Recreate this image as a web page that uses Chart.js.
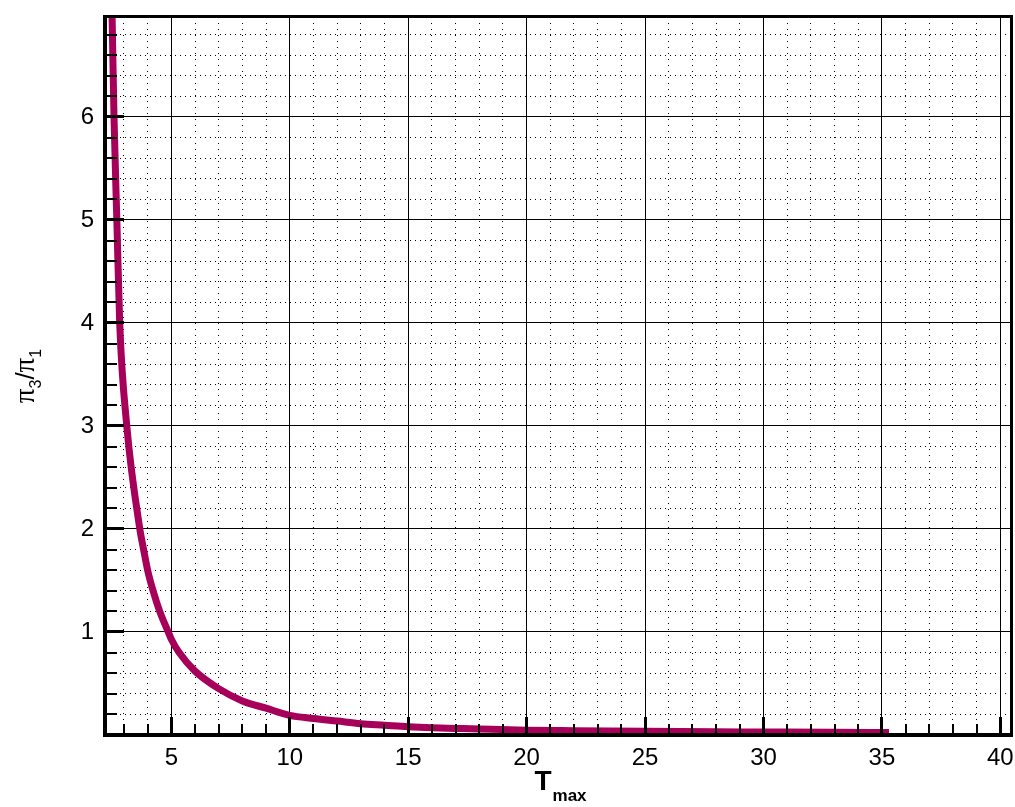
<!DOCTYPE html>
<html>
<head>
<meta charset="utf-8">
<title>pi3/pi1 vs Tmax</title>
<script src="https://cdn.jsdelivr.net/npm/chart.js@4/dist/chart.umd.min.js"></script>
<style>
  html, body { margin: 0; padding: 0; background: #fff; }
  #wrap { width: 1015px; height: 807px; }
</style>
</head>
<body>
<div id="wrap"><canvas id="ratioChart" width="1015" height="807"></canvas></div>
<script>
// curve samples: T_max and the ratio pi3/pi1
const tMax = [2.50, 2.58, 2.70, 2.82, 3.12, 3.67, 3.83, 4.00, 4.23, 4.51, 4.87, 5.00, 5.33,
  6, 7, 8, 9, 10, 11, 12, 13, 14, 15, 16, 17, 18, 20, 22, 25, 28, 30, 33, 35.3];
const piRatio = [6.97, 6.0, 5.0, 4.0, 3.0, 2.0, 1.8, 1.6, 1.4, 1.2, 1.0, 0.93, 0.80,
  0.62, 0.45, 0.33, 0.26, 0.19, 0.16, 0.135, 0.11, 0.095, 0.08, 0.07, 0.064, 0.058, 0.047, 0.042, 0.036, 0.031, 0.029, 0.026, 0.025];

// labelled ticks
const xLabels = [5, 10, 15, 20, 25, 30, 35, 40];
const yLabels = [1, 2, 3, 4, 5, 6];

const X_MIN = 2.2, X_MAX = 40.45;
const Y_MIN = 0, Y_MAX = 6.97;

const tickFont = { family: "'Liberation Sans', Arial, sans-serif", size: 24 };

// keep the plot box fixed: no extra room for overhanging labels
const fixWidth = w => s => { s.width = w; s.paddingTop = 0; s.paddingBottom = 0; s.paddingLeft = 0; s.paddingRight = 0; };
const fixHeight = h => s => { s.height = h; s.paddingTop = 0; s.paddingBottom = 0; s.paddingLeft = 0; s.paddingRight = 0; };

// frame and inward tick marks, drawn on top of the curve
const frameTicks = {
  id: 'frameTicks',
  afterDatasetsDraw(chart) {
    const { ctx, chartArea: a, scales } = chart;
    ctx.save();
    ctx.fillStyle = '#000';
    scales.xMinor.ticks.forEach(t => {
      const px = scales.x.getPixelForValue(t.value);
      const major = xLabels.includes(t.value);
      const w = major ? 3 : 2, h = major ? 18 : 11;
      ctx.fillRect(Math.round(px - w / 2), a.bottom - h, w, h);
    });
    scales.yMinor.ticks.forEach(t => {
      const py = scales.y.getPixelForValue(t.value);
      const major = Math.abs(t.value - Math.round(t.value)) < 1e-6;
      const w = major ? 19 : 12, h = major ? 3 : 2;
      ctx.fillRect(a.left, Math.round(py - h / 2), w, h);
    });
    // box
    ctx.fillRect(a.left - 2, a.top - 2, 4, a.bottom - a.top + 4);
    ctx.fillRect(a.left - 2, a.bottom - 2, a.right - a.left + 4, 4);
    ctx.fillRect(a.left - 2, a.top - 2, a.right - a.left + 3, 3);
    ctx.fillRect(a.right - 1, a.top - 2, 3, a.bottom - a.top + 4);
    ctx.restore();
  }
};

// axis titles with subscripts
const axisTitles = {
  id: 'axisTitles',
  afterDraw(chart) {
    const { ctx, chartArea: a } = chart;
    ctx.save();
    ctx.fillStyle = '#000';
    ctx.textBaseline = 'alphabetic';

    // T_max
    const bigT = "bold 28px 'Liberation Sans', Arial, sans-serif";
    const sub = "bold 17px 'Liberation Sans', Arial, sans-serif";
    ctx.font = bigT;
    const wT = ctx.measureText('T').width;
    ctx.font = sub;
    const wSub = ctx.measureText('max').width;
    let x = (a.left + a.right) / 2 - (wT + wSub) / 2 + 2;
    ctx.font = bigT;
    ctx.fillText('T', x, 790);
    ctx.font = sub;
    ctx.fillText('max', x + wT + 1, 801);

    // pi3 / pi1, rotated
    const parts = [
      { s: '\u03c0', f: "29px 'Liberation Serif', serif", dy: 0 },
      { s: '3', f: "16px 'Liberation Sans', Arial, sans-serif", dy: 7 },
      { s: '/', f: "26px 'Liberation Sans', Arial, sans-serif", dy: 0 },
      { s: '\u03c0', f: "29px 'Liberation Serif', serif", dy: 0 },
      { s: '1', f: "16px 'Liberation Sans', Arial, sans-serif", dy: 7 }
    ];
    let total = 0;
    parts.forEach(p => { ctx.font = p.f; p.w = ctx.measureText(p.s).width; total += p.w; });
    ctx.translate(34, (a.top + a.bottom) / 2);
    ctx.rotate(-Math.PI / 2);
    let px = -total / 2;
    parts.forEach(p => {
      ctx.font = p.f;
      ctx.fillText(p.s, px, p.dy);
      px += p.w;
    });
    ctx.restore();
  }
};

const points = tMax.map((t, i) => ({ x: t, y: piRatio[i] }));

new Chart(document.getElementById('ratioChart').getContext('2d'), {
  type: 'scatter',
  data: {
    datasets: [{
      data: points,
      showLine: true,
      borderColor: '#a6005a',
      borderWidth: 7,
      pointRadius: 0,
      cubicInterpolationMode: 'monotone',
      clip: 0
    }]
  },
  options: {
    responsive: false,
    animation: false,
    devicePixelRatio: 1,
    layout: { padding: { top: 17, right: 4, left: 0, bottom: 0 } },
    plugins: { legend: { display: false }, tooltip: { enabled: false } },
    scales: {
      x: {
        type: 'linear', position: 'bottom', min: X_MIN, max: X_MAX,
        afterFit: fixHeight(72),
        ticks: {
          stepSize: 5, includeBounds: false, autoSkip: false, maxRotation: 0,
          padding: 9, color: '#000', font: tickFont,
          callback: v => xLabels.includes(v) ? String(v) : ''
        },
        grid: { color: '#000', lineWidth: 1, drawTicks: false },
        border: { display: false }
      },
      xMinor: {
        type: 'linear', position: 'top', min: X_MIN, max: X_MAX,
        afterFit: fixHeight(0),
        ticks: { display: false, stepSize: 1, includeBounds: false },
        grid: { color: '#000', lineWidth: 1, drawTicks: false },
        border: { display: false, dash: [1, 5] }
      },
      y: {
        type: 'linear', position: 'left', min: Y_MIN, max: Y_MAX,
        afterFit: fixWidth(105),
        ticks: {
          stepSize: 1, includeBounds: false, autoSkip: false,
          padding: 11, color: '#000', font: tickFont,
          callback: v => yLabels.includes(v) ? String(v) : ''
        },
        grid: { color: '#000', lineWidth: 1, drawTicks: false },
        border: { display: false }
      },
      yMinor: {
        type: 'linear', position: 'right', min: Y_MIN, max: Y_MAX,
        afterFit: fixWidth(0),
        ticks: { display: false, stepSize: 0.2, includeBounds: false },
        grid: { color: '#000', lineWidth: 1, drawTicks: false },
        border: { display: false, dash: [1, 4] }
      }
    }
  },
  plugins: [frameTicks, axisTitles]
});
</script>
</body>
</html>
